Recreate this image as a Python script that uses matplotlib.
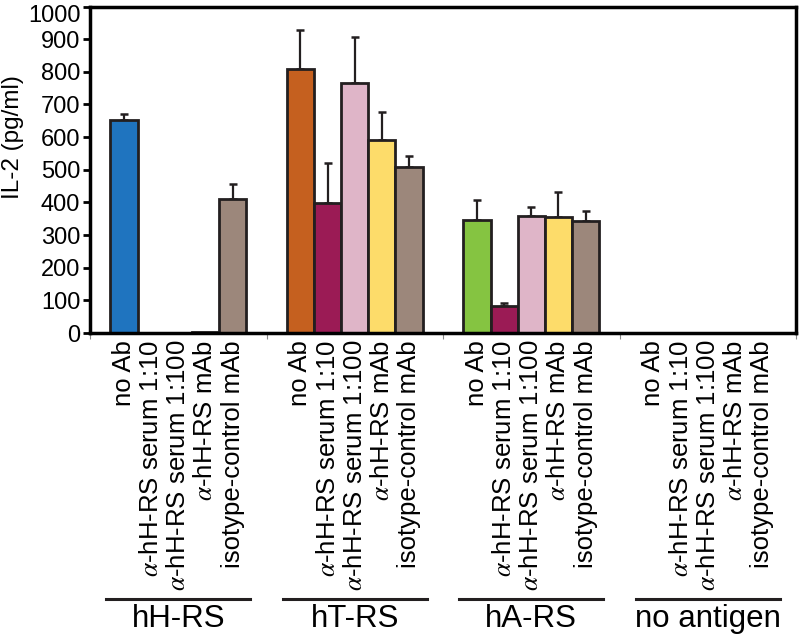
import numpy as np
import matplotlib
matplotlib.use('Agg')
import matplotlib.pyplot as plt
import matplotlib.transforms as mtransforms

plt.rcParams['font.family'] = ['Liberation Sans', 'DejaVu Sans']
plt.rcParams['mathtext.fontset'] = 'stix'

# Data
groups = ['hH-RS', 'hT-RS', 'hA-RS', 'no antigen']
conditions = ['no Ab', r'$\alpha$-hH-RS serum 1:10', r'$\alpha$-hH-RS serum 1:100',
              r'$\alpha$-hH-RS mAb', 'isotype-control mAb']
il2 = [[652, 0, 0, 2, 410],
       [808, 397, 765, 590, 509],
       [345, 82, 358, 355, 344],
       [0, 1, 0, 0, 0]]
il2_err = [[18, 0, 0, 0, 46],
           [120, 123, 143, 86, 33],
           [62, 10, 27, 76, 30],
           [0, 0, 0, 0, 0]]
first_colors = ['#1f74bf', '#c5601f', '#85c441', '#1f74bf']
other_colors = ['#9b1b55', '#dfb5c8', '#fddc6a', '#9c877b']

group_step = 6.5
edge = '#231f20'

fig = plt.figure(figsize=(8.01, 6.37), dpi=100)
ax = fig.add_axes([90 / 801, 1 - 333 / 637, 706 / 801, 326.5 / 637])

centers = []
labels = []
for g, grp in enumerate(groups):
    xs = g * group_step + np.arange(len(conditions))
    cols = [first_colors[g]] + other_colors
    ax.bar(xs, il2[g], width=1.0, color=cols, edgecolor=edge, linewidth=2, zorder=2)
    vals = np.array(il2[g], dtype=float)
    errs = np.array(il2_err[g], dtype=float)
    m = errs > 0
    if m.any():
        ax.errorbar(xs[m], vals[m], yerr=[np.zeros(m.sum()), errs[m]], fmt='none',
                    ecolor=edge, elinewidth=1.6, capsize=2.8, capthick=1.8, zorder=1)
    centers.extend(xs)
    labels.extend(conditions)

ax.set_xlim(-1.25, 3 * group_step + 5.25)
ax.set_ylim(0, 1000)
ax.set_yticks(np.arange(0, 1001, 100))
ax.tick_params(axis='y', labelsize=17, width=2, length=5, direction='out', pad=2)
# top label sits a little lower so it stays inside the figure
top_lbl = ax.get_yticklabels()[-1]
top_lbl.set_transform(top_lbl.get_transform() +
                      mtransforms.ScaledTranslation(0, -0.07, fig.dpi_scale_trans))

ax.set_xticks(centers)
ax.set_xticklabels(labels, rotation=90, fontsize=18.5)
ax.tick_params(axis='x', length=0, pad=5)
bounds = [g * group_step - 1.25 for g in range(len(groups) + 1)]
ax.set_xticks(bounds, minor=True)
ax.tick_params(axis='x', which='minor', length=4, width=0.8, color='#888888')

for s in ax.spines.values():
    s.set_linewidth(2.5)
    s.set_color('black')

fig.text(13 / 801, 1 - 137 / 637, 'IL-2 (pg/ml)', rotation=90, ha='center', va='center',
         fontsize=17.5)

trans = mtransforms.blended_transform_factory(ax.transData, fig.transFigure)
for g, grp in enumerate(groups):
    c = g * group_step + 2
    ax.plot([c - 2.65, c + 2.65], [1 - 599 / 637] * 2, color='#231f20', lw=2.2,
            transform=trans, clip_on=False)
    ax.text(c, 1 - 619 / 637, grp, transform=trans, ha='center', va='center', fontsize=22.5)

fig.savefig('out.png', dpi=100)
